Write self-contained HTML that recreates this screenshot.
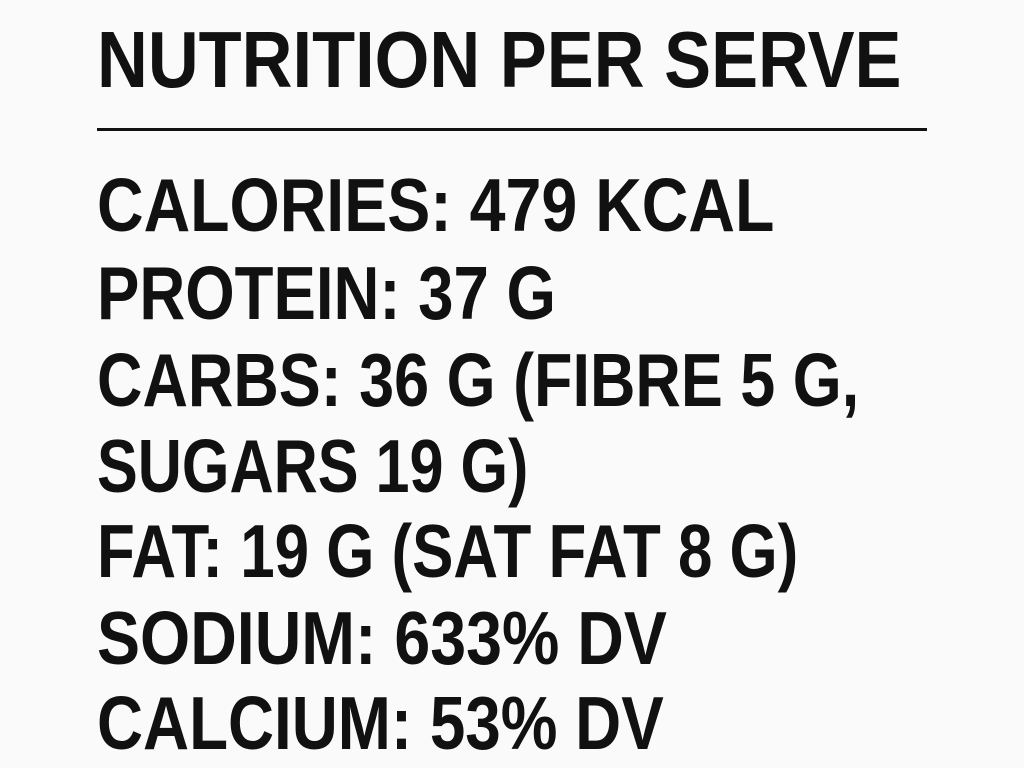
<!DOCTYPE html>
<html><head><meta charset="utf-8"><style>
html,body{margin:0;padding:0;}
body{width:1024px;height:768px;background:#fafafa;position:relative;overflow:hidden;font-family:"Liberation Sans",sans-serif;font-weight:bold;color:#111;}
.t{position:absolute;left:97px;white-space:nowrap;line-height:75px;font-size:75px;transform:scaleX(0.86);transform-origin:left top;}
.h{position:absolute;left:97px;top:20px;white-space:nowrap;line-height:80px;font-size:80px;transform:scaleX(0.88);transform-origin:left top;}
.rule{position:absolute;left:97px;top:128px;width:830px;height:3px;background:#111;}
</style></head><body>
<div class="h">NUTRITION PER SERVE</div>
<div class="rule"></div>
<div class="t" style="top:168px">CALORIES: 479 KCAL</div>
<div class="t" style="top:256px;transform:scaleX(0.847)">PROTEIN: 37 G</div>
<div class="t" style="top:343px;transform:scaleX(0.839)">CARBS: 36 G (FIBRE 5 G,</div>
<div class="t" style="top:429px;transform:scaleX(0.815)">SUGARS 19 G)</div>
<div class="t" style="top:514px;transform:scaleX(0.825)">FAT: 19 G (SAT FAT 8 G)</div>
<div class="t" style="top:601px">SODIUM: 633% DV</div>
<div class="t" style="top:686px;transform:scaleX(0.85)">CALCIUM: 53% DV</div>
</body></html>
